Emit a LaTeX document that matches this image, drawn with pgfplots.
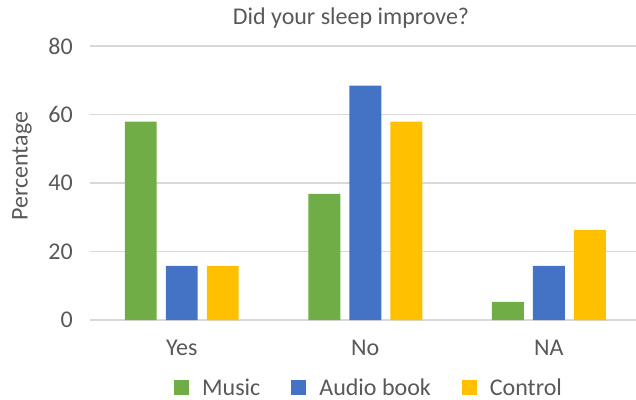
\documentclass[border=0pt]{standalone}
\usepackage{fontspec}
\setmainfont{Carlito}
\usepackage{pgfplots}
\pgfplotsset{compat=1.18}
\definecolor{cmusic}{HTML}{70AD47}
\definecolor{caudio}{HTML}{4472C4}
\definecolor{cctrl}{HTML}{FFC000}
\definecolor{ctext}{HTML}{595959}
\definecolor{cgrid}{HTML}{D9D9D9}
\pgfplotsset{sqlegend/.style={legend image code/.code={\fill[##1] (0bp,-7.5bp) rectangle (15bp,7.5bp);}}}
\newcommand{\chartfont}{\fontsize{24bp}{28bp}\selectfont}
\begin{document}
\begin{tikzpicture}
\begin{axis}[
  scale only axis, width=546bp, height=274bp,
  at={(0,0)}, anchor=south west,
  xmin=-0.5, xmax=2.475, ymin=0, ymax=80,
  ytick={0,20,40,60,80},
  xtick={0,1,2}, xticklabels={Yes,No,NA},
  ybar, bar width=0.174,
  axis line style={draw=none},
  tick style={draw=none},
  ymajorgrids, major grid style={cgrid, line width=1.6bp},
  font=\chartfont,
  /pgf/number format/assume math mode=true,
  tick label style={text=ctext, inner sep=0pt, font=\chartfont},
  yticklabel style={anchor=east, xshift=-17bp},
  xticklabel style={anchor=base, yshift=-31bp},
  ylabel={Percentage},
  every axis y label/.style={at={(axis description cs:0,0.561)}, xshift=-68bp, rotate=90, anchor=center, text=ctext, font=\chartfont},
  title={Did your sleep improve?},
  title style={at={(axis description cs:0.478,1)}, anchor=base, yshift=16bp, text=ctext, font=\chartfont},
  legend columns=3,
  legend style={at={(axis description cs:0,0)}, anchor=west, xshift=84bp, yshift=-67.5bp, draw=none, inner sep=0pt, font=\chartfont, text=ctext,
    nodes={inner sep=0pt},
    /tikz/every odd column/.append style={column sep=13bp},
    /tikz/every even column/.append style={column sep=31bp}},
]
\addplot[fill=cmusic, draw=none, bar shift=-0.2234, sqlegend]
  coordinates {(0,57.9) (1,36.8) (2,5.3)};
\addplot[fill=caudio, draw=none, bar shift=0, sqlegend]
  coordinates {(0,15.8) (1,68.4) (2,15.8)};
\addplot[fill=cctrl, draw=none, bar shift=0.2234, sqlegend]
  coordinates {(0,15.8) (1,57.9) (2,26.3)};
\legend{Music, Audio book, Control}
\end{axis}
\pgfresetboundingbox
\path (-90bp,-80bp) rectangle (546bp,320bp);
\end{tikzpicture}
\end{document}
